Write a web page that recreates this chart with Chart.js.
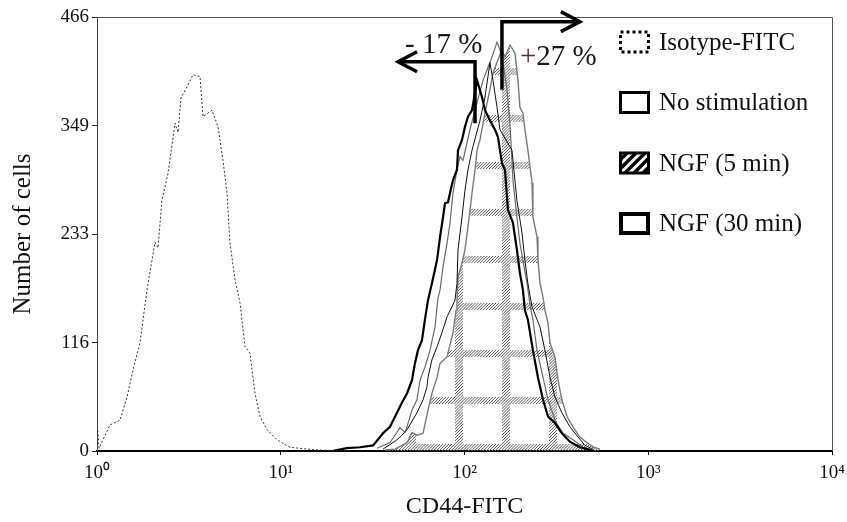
<!DOCTYPE html>
<html>
<head>
<meta charset="utf-8">
<script src="https://cdn.jsdelivr.net/npm/chart.js@4.4.0/dist/chart.umd.min.js"></script>
<style>
  html, body { margin: 0; padding: 0; background: #fff; }
</style>
</head>
<body>
<canvas id="histChart" width="847" height="522"></canvas>
<script>
// fluorescence (CD44-FITC) and cell counts
const isoX = [1.0, 1.025, 1.177, 1.334, 1.457, 1.570, 1.714, 1.871, 2.068, 2.148, 2.258, 2.435, 2.658, 2.760, 2.865, 3.090, 3.331, 3.636, 3.775, 4.226, 4.556, 4.850, 5.100, 5.296, 5.637, 6.002, 6.390, 6.802, 7.243, 7.713, 8.418, 9.542, 11.23, 13.90, 16.36, 23.83];
const isoY = [35, 3, 28, 33, 58, 87, 116, 173, 224, 218, 270, 298, 352, 342, 379, 391, 404, 402, 359, 366, 348, 312, 277, 223, 184, 159, 112, 105, 62, 37, 23, 12, 4, 2, 1, 0];

const ngf30X = [19.0, 22.9, 27.0, 31.8, 34.7, 36.0, 39.3, 42.9, 45.7, 48.7, 51.8, 53.7, 55.8, 58.7, 60.9, 63.3, 66.5, 70.9, 73.6, 76.4, 78.3, 81.3, 83.4, 86.6, 91.0, 92.2, 96.9, 100.6, 104.5, 109.9, 117.0, 124.5, 129.3, 137.6, 146.5, 152.1, 159.9, 166.0, 172.4, 183.5, 192.9, 200.3, 207.9, 213.2, 221.3, 235.7, 251.1, 267.5, 284.9, 310.7, 338.8, 374.6, 424.3, 463.8, 505];
const ngf30Y = [0, 3, 4, 6, 15, 19, 26, 41, 52, 62, 76, 94, 108, 119, 141, 162, 180, 205, 230, 251, 266, 267, 277, 291, 302, 323, 334, 348, 359, 366, 398, 380, 366, 355, 345, 337, 309, 302, 259, 245, 216, 191, 173, 151, 141, 108, 79, 55, 37, 30, 19, 10, 4, 2, 0];

const noStimX = [36.0, 42.9, 45.7, 48.7, 55.1, 59.5, 62.5, 63.3, 66.5, 70.9, 75.4, 80.3, 85.5, 88.8, 91.0, 92.2, 96.9, 100.6, 104.5, 109.9, 121.4, 129.3, 137.6, 142.9, 150.3, 156.0, 181.3, 192.9, 205.6, 213.2, 221.3, 233.0, 257.6, 274.2, 292.0, 310.7, 338.8, 374.6, 414.7, 452.7, 500.4];
const noStimY = [2, 12, 17, 23, 41, 55, 69, 79, 98, 112, 127, 144, 155, 162, 180, 216, 251, 280, 302, 323, 355, 380, 417, 398, 369, 345, 323, 269, 234, 205, 180, 155, 133, 108, 79, 58, 41, 26, 15, 6, 2];

const greyX = [33.4, 39.3, 44.6, 47.5, 49.3, 51.8, 55.1, 57.3, 60.9, 64.9, 69.1, 71.7, 73.6, 76.4, 80.3, 83.4, 86.6, 91.0, 94.5, 98.1, 107.1, 117.0, 126.1, 134.3, 141.2, 150.3, 156.0, 162.0, 170.3, 176.9, 183.5, 192.9, 200.3, 207.9, 218.9, 227.2, 235.7, 248.1, 264.1, 284.9, 310.7, 343.6, 389.5, 441.5, 481.9];
const greyY = [3, 9, 25, 20, 30, 44, 55, 76, 90, 108, 133, 164, 173, 198, 223, 245, 277, 302, 316, 312, 345, 374, 398, 412, 423, 439, 431, 417, 388, 350, 291, 251, 223, 205, 180, 157, 141, 108, 84, 55, 33, 19, 12, 4, 2];

const ngf5X = [36.9, 41.9, 48.7, 51.8, 55.1, 59.5, 63.3, 66.5, 70.9, 73.6, 80.3, 86.6, 89.9, 91.0, 92.2, 96.9, 100.6, 104.5, 109.9, 114.1, 117.0, 121.4, 129.3, 137.6, 142.9, 152.1, 159.9, 166.0, 176.9, 188.3, 195.5, 200.3, 207.9, 213.2, 221.3, 227.2, 233.0, 235.7, 248.1, 251.1, 257.6, 267.5, 274.2, 284.9, 292.0, 310.7, 322.7, 338.8, 361.3, 389.5, 424.3, 463.8, 505, 546.3];
const ngf5Y = [1, 2, 9, 20, 17, 19, 44, 62, 79, 94, 101, 127, 151, 162, 187, 202, 216, 241, 277, 302, 323, 334, 363, 388, 406, 420, 431, 423, 436, 427, 398, 369, 363, 345, 323, 305, 288, 251, 230, 205, 180, 165, 151, 137, 116, 101, 76, 55, 37, 26, 15, 9, 4, 2];

const xTickValues = [1, 10, 100, 1000, 10000];
const xTickLabels = ["10\u2070", "10\u00B9", "10\u00B2", "10\u00B3", "10\u2074"];
const yTickValues = [0, 116, 233, 349, 466];

const seriesLabels = ["Isotype-FITC", "No stimulation", "NGF (5 min)", "NGF (30 min)"];

function toPoints(xs, ys) {
  return xs.map((x, i) => ({ x: x, y: ys[i] }));
}

// hatched plaid fill used for the NGF (5 min) histogram
function makeHatch() {
  const size = 47;
  const c = document.createElement("canvas");
  c.width = size;
  c.height = size;
  const g = c.getContext("2d");
  g.beginPath();
  g.rect(0, 21, size, 7);
  g.rect(32, 0, 8, size);
  g.clip();
  g.strokeStyle = "#5a5a5a";
  g.lineWidth = 1;
  const step = size / 16;
  for (let k = -20; k < 40; k++) {
    const c0 = k * step;
    g.beginPath();
    g.moveTo(c0, size);
    g.lineTo(c0 + size, 0);
    g.stroke();
  }
  return g.createPattern(c, "repeat");
}

const serif = "'Liberation Serif', 'Times New Roman', serif";
Chart.defaults.font.family = serif;
Chart.defaults.color = "#111";

// arrows and percentages, in data coordinates
const arrows = [
  { pts: [[114.1, 352], [114.1, 418], [43.5, 418]], dir: -1 },
  { pts: [[159.9, 388], [159.9, 461], [424.3, 461]], dir: 1 },
];
const notes = [
  { text: "- 17 %", x: 47.5, y: 427 },
  { text: "+27 %", x: 200.3, y: 414 },
];

const extrasPlugin = {
  id: "extras",
  afterDraw(chart) {
    const ctx = chart.ctx;
    const a = chart.chartArea;
    const xs = chart.scales.x;
    const ys = chart.scales.y;

    // frame top and right
    ctx.save();
    ctx.strokeStyle = "#555";
    ctx.lineWidth = 1;
    ctx.beginPath();
    ctx.moveTo(a.left, a.top + 0.5);
    ctx.lineTo(a.right + 0.5, a.top + 0.5);
    ctx.lineTo(a.right + 0.5, a.bottom);
    ctx.stroke();
    ctx.restore();

    // arrows
    ctx.save();
    ctx.strokeStyle = "#000";
    ctx.lineWidth = 3.5;
    ctx.lineJoin = "miter";
    arrows.forEach((ar) => {
      ctx.beginPath();
      ar.pts.forEach((p, i) => {
        const px = xs.getPixelForValue(p[0]);
        const py = ys.getPixelForValue(p[1]);
        if (i === 0) ctx.moveTo(px, py);
        else ctx.lineTo(px, py);
      });
      ctx.stroke();
      const tip = ar.pts[ar.pts.length - 1];
      const tx = xs.getPixelForValue(tip[0]);
      const ty = ys.getPixelForValue(tip[1]);
      ctx.beginPath();
      ctx.moveTo(tx - ar.dir * 19, ty - 10);
      ctx.lineTo(tx, ty);
      ctx.lineTo(tx - ar.dir * 19, ty + 10);
      ctx.stroke();
    });
    ctx.restore();

    // percentage labels
    ctx.save();
    ctx.font = "29px " + serif;
    ctx.textBaseline = "alphabetic";
    ctx.textAlign = "left";
    notes.forEach((n) => {
      let px = xs.getPixelForValue(n.x);
      const py = ys.getPixelForValue(n.y);
      if (n.text[0] === "+") {
        ctx.fillStyle = "#5a2a50";
        ctx.fillText("+", px, py);
        px += ctx.measureText("+").width;
        ctx.fillStyle = "#1a1a1a";
        ctx.fillText(n.text.slice(1), px, py);
      } else {
        ctx.fillStyle = "#1a1a1a";
        ctx.fillText(n.text, px, py);
      }
    });
    ctx.restore();

    // legend inside the plot, top right
    const lx = a.right - 213;
    const w = 31;
    const h = 23;
    ctx.save();
    ctx.font = "25px " + serif;
    ctx.textBaseline = "middle";
    ctx.fillStyle = "#111";
    seriesLabels.forEach((label, i) => {
      const cy = a.top + 25 + i * 60.5;
      const top = cy - h / 2;
      ctx.save();
      ctx.strokeStyle = "#000";
      if (i === 0) {
        ctx.lineWidth = 3;
        ctx.setLineDash([3, 3]);
        ctx.strokeRect(lx + 1.5, top + 1.5, w - 3, h - 3);
      } else if (i === 2) {
        ctx.fillStyle = "#000";
        ctx.fillRect(lx, top, w, h);
        ctx.beginPath();
        ctx.rect(lx + 3, top + 3, w - 6, h - 6);
        ctx.clip();
        ctx.strokeStyle = "#fff";
        ctx.lineWidth = 3;
        for (let k = -2; k < 6; k++) {
          const sx = lx + k * 9;
          ctx.beginPath();
          ctx.moveTo(sx, top + h);
          ctx.lineTo(sx + h, top);
          ctx.stroke();
        }
      } else {
        const lw = i === 3 ? 4 : 3;
        ctx.lineWidth = lw;
        ctx.strokeRect(lx + lw / 2, top + lw / 2, w - lw, h - lw);
      }
      ctx.restore();
      ctx.fillText(label, lx + 40, cy + 1);
    });
    ctx.restore();
  },
};

const ctx = document.getElementById("histChart");

const histChart = new Chart(ctx, {
  type: "line",
  data: {
    datasets: [
      {
        label: seriesLabels[0],
        data: toPoints(isoX, isoY),
        borderColor: "#333",
        borderWidth: 1,
        borderDash: [2, 2],
        pointRadius: 0,
        fill: false,
      },
      {
        label: seriesLabels[3],
        data: toPoints(ngf30X, ngf30Y),
        borderColor: "#000",
        borderWidth: 2.2,
        pointRadius: 0,
        fill: false,
      },
      {
        label: seriesLabels[1],
        data: toPoints(noStimX, noStimY),
        borderColor: "#111",
        borderWidth: 1,
        pointRadius: 0,
        fill: false,
      },
      {
        label: "",
        data: toPoints(greyX, greyY),
        borderColor: "#6a6a6a",
        borderWidth: 1.2,
        pointRadius: 0,
        fill: false,
      },
      {
        label: seriesLabels[2],
        data: toPoints(ngf5X, ngf5Y),
        borderColor: "#7a7a7a",
        borderWidth: 1.4,
        pointRadius: 0,
        fill: "origin",
        backgroundColor: makeHatch(),
      },
    ],
  },
  options: {
    responsive: false,
    animation: false,
    maintainAspectRatio: false,
    layout: {
      padding: { top: 17, right: 15, left: 0, bottom: 0 },
    },
    scales: {
      x: {
        type: "logarithmic",
        min: 1,
        max: 10000,
        afterBuildTicks: (scale) => {
          scale.ticks = xTickValues.map((v) => ({ value: v }));
        },
        afterFit: (scale) => {
          scale.height = 71;
          // end labels may hang into the outer padding
          scale.paddingLeft = 0;
          scale.paddingRight = 0;
        },
        ticks: {
          autoSkip: false,
          maxRotation: 0,
          padding: 7,
          color: "#111",
          font: { size: 19 },
          callback: function (value, index) {
            return xTickLabels[index];
          },
        },
        grid: {
          display: true,
          drawOnChartArea: false,
          drawTicks: true,
          tickLength: 4,
          color: "#000",
        },
        border: { display: true, color: "#000", width: 2 },
        title: {
          display: true,
          text: "CD44-FITC",
          color: "#111",
          font: { size: 24 },
          padding: { top: 0, bottom: 1 },
        },
      },
      y: {
        type: "linear",
        min: 0,
        max: 466,
        afterBuildTicks: (scale) => {
          scale.ticks = yTickValues.map((v) => ({ value: v }));
        },
        afterFit: (scale) => {
          scale.width = 97;
        },
        ticks: {
          padding: 3,
          color: "#111",
          font: { size: 19 },
        },
        grid: {
          display: true,
          drawOnChartArea: false,
          drawTicks: true,
          tickLength: 5,
          color: "#222",
        },
        border: { display: true, color: "#444", width: 1 },
        title: {
          display: true,
          text: "Number of cells",
          color: "#111",
          font: { size: 25 },
          padding: { top: 8, bottom: 0 },
        },
      },
    },
    plugins: {
      legend: { display: false },
      tooltip: { enabled: false },
    },
  },
  plugins: [extrasPlugin],
});
</script>
</body>
</html>
